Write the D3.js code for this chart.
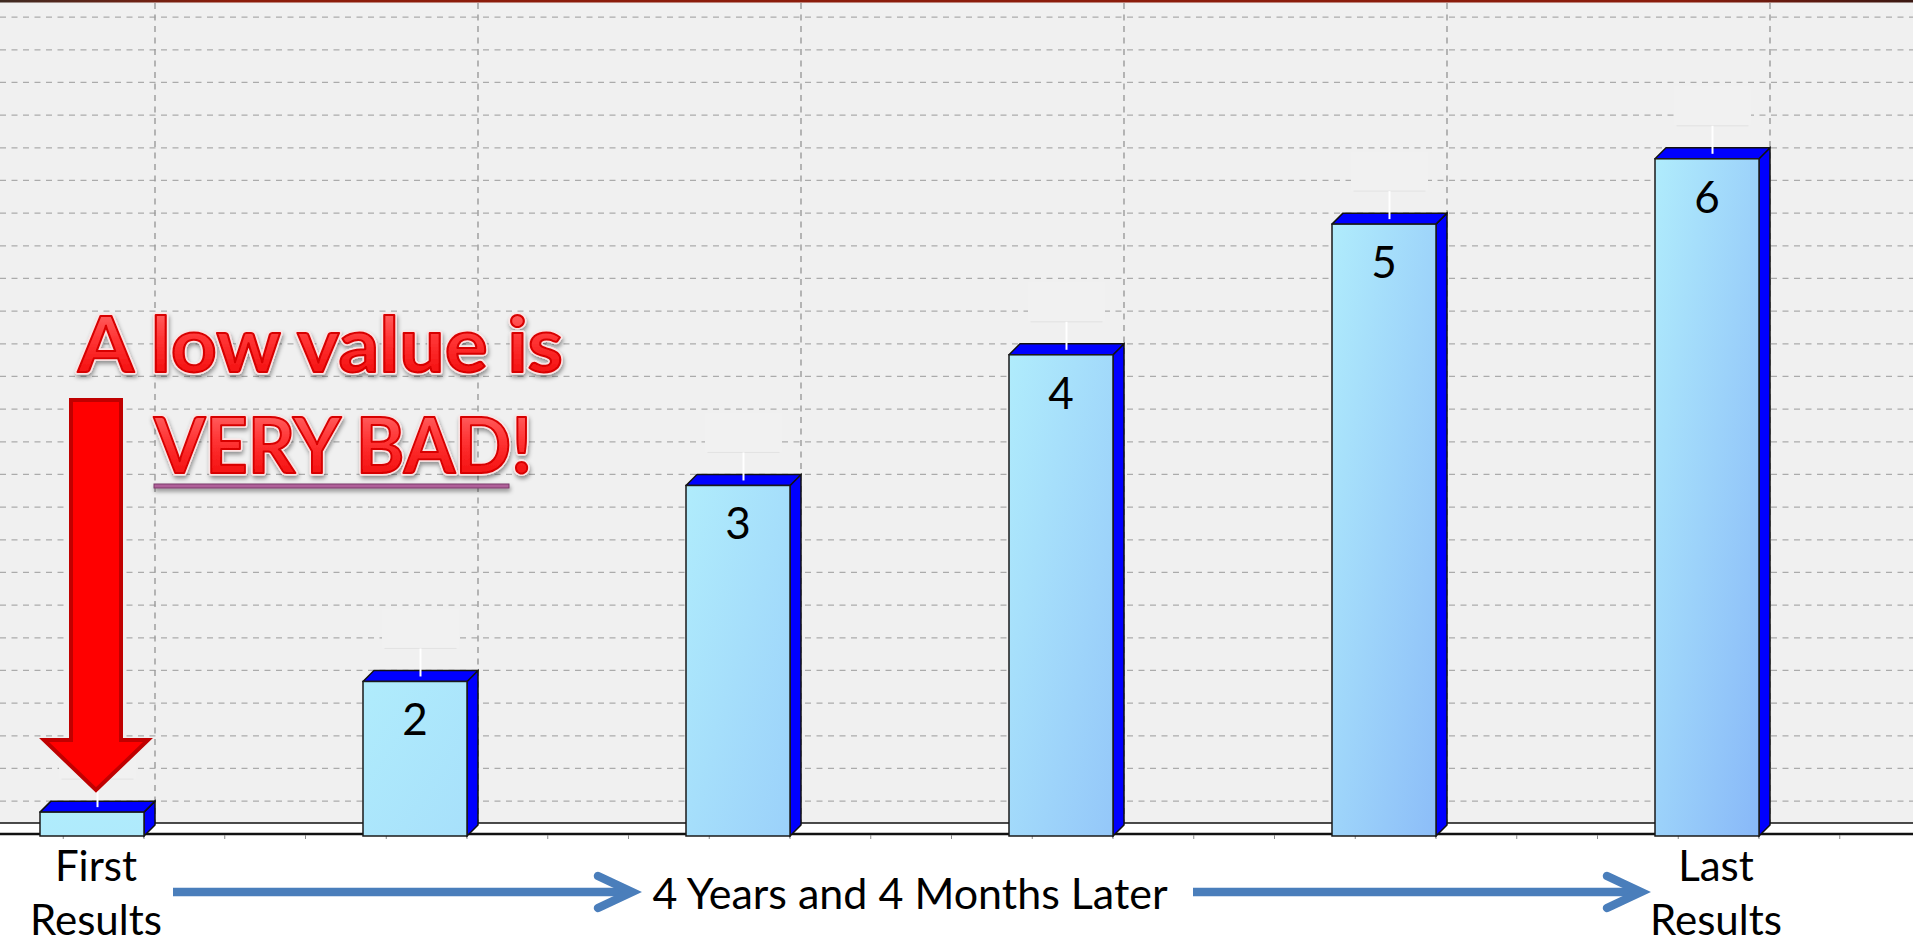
<!DOCTYPE html>
<html>
<head>
<meta charset="utf-8">
<script src="https://cdn.jsdelivr.net/npm/d3@7"></script>
<style>
  html, body { margin: 0; padding: 0; background: #fff; overflow: hidden; }
  svg { display: block; font-family: Lato, "Open Sans", sans-serif; }
</style>
</head>
<body>
<div class="container"></div>
<script>
var width = 1913;
var height = 946;

// Chart data
var barIndex = [0, 1, 2, 3, 4, 5];
var barValues = [1, 5, 11, 15, 19, 21];
var barLabels = ["", "2", "3", "4", "5", "6"];
var gridValues = d3.range(1, 26);
var startLabel = ["First", "Results"];
var endLabel = ["Last", "Results"];
var middleLabel = "4 Years and 4 Months Later";
var noteLines = ["A low value is", "VERY BAD!"];

// 3D look of the columns
var depth = { dx: 11, dy: 11 };
var barW = 104;
var axisY = 834;
var floorY = axisY - depth.dy;

var svg = d3.select(".container").append("svg")
  .attr("width", width)
  .attr("height", height);
var defs = svg.append("defs");

var xScale = d3.scaleLinear().domain([0, 5]).range([92, 1707]);
var yScale = d3.scaleLinear().domain([0.3, 25.8]).range([835, 2]);
var step = xScale(1) - xScale(0);

// back wall
svg.append("rect")
  .attr("x", 0).attr("y", 0)
  .attr("width", width).attr("height", floorY)
  .attr("fill", "#f0f0f0");

// top border strip
var topGrad = defs.append("linearGradient").attr("id", "topGrad");
[["0%", "#3e2a22"], ["12%", "#8c1c0a"], ["88%", "#8a1c0c"], ["100%", "#3a1812"]].forEach(function (s) {
  topGrad.append("stop").attr("offset", s[0]).attr("stop-color", s[1]);
});
svg.append("rect")
  .attr("x", 0).attr("y", 0)
  .attr("width", width).attr("height", 2.5)
  .attr("fill", "url(#topGrad)");

// horizontal grid on the back wall
svg.append("g").selectAll("line")
  .data(gridValues)
  .enter().append("line")
  .attr("x1", 0).attr("x2", width)
  .attr("y1", d => yScale(d) - depth.dy)
  .attr("y2", d => yScale(d) - depth.dy)
  .style("stroke", "#ababab")
  .style("stroke-width", 1.3)
  .style("stroke-dasharray", "6,5.5");

// vertical grid, one per category
svg.append("g").selectAll("line")
  .data(barIndex)
  .enter().append("line")
  .attr("x1", d => xScale(d) + barW / 2 + depth.dx)
  .attr("x2", d => xScale(d) + barW / 2 + depth.dx)
  .attr("y1", 3).attr("y2", floorY)
  .style("stroke", "#9a9a9a")
  .style("stroke-width", 1.4)
  .style("stroke-dasharray", "6,5.5");

// hidden label boxes with leader lines (faint in the original)
var ghost = svg.append("g");
barIndex.forEach(function (i) {
  var cx = xScale(i) + depth.dx / 2;
  var bottom = yScale(barValues[i]) - depth.dy - 22;
  ghost.append("rect")
    .attr("x", cx - 38.5).attr("y", bottom - 40)
    .attr("width", 77).attr("height", 40)
    .attr("fill", "#f1f1f1");
  ghost.append("line")
    .attr("x1", cx - 36).attr("x2", cx + 36)
    .attr("y1", bottom).attr("y2", bottom)
    .style("stroke", "#e2e2e2")
    .style("stroke-width", 1);
});

// floor
svg.append("rect")
  .attr("x", 0).attr("y", floorY)
  .attr("width", width).attr("height", axisY - floorY)
  .attr("fill", "#ffffff");
svg.append("line")
  .attr("x1", 0).attr("x2", width)
  .attr("y1", floorY).attr("y2", floorY)
  .style("stroke", "#111").style("stroke-width", 1.5);
svg.append("line")
  .attr("x1", 0).attr("x2", width)
  .attr("y1", axisY).attr("y2", axisY)
  .style("stroke", "#111").style("stroke-width", 2.5);

// minor ticks, four per category, aligned with the bar edges
var tickPos = d3.range(-1, 24).map(k => xScale(0) + barW / 2 + k * step / 4)
  .filter(p => p > 0 && p < width);
svg.append("g").selectAll("line")
  .data(tickPos)
  .enter().append("line")
  .attr("x1", d => d).attr("x2", d => d)
  .attr("y1", axisY + 1).attr("y2", axisY + 5)
  .style("stroke", "#8a8a8a")
  .style("stroke-width", 1);

// columns
var hMax = d3.max(barValues, v => yScale.range()[0] - yScale(v));
var bottomColor = d3.interpolateRgb("#b0ecfc", "#88b8f8");
var bars = svg.append("g");
barIndex.forEach(function (i) {
  var v = barValues[i];
  var x0 = xScale(i) - barW / 2;
  var x1 = xScale(i) + barW / 2;
  var yT = yScale(v);
  var yB = axisY + 2;
  var h = yB - yT;

  var g = defs.append("linearGradient")
    .attr("id", "barGrad" + i)
    .attr("x1", 0).attr("y1", 0).attr("x2", 1).attr("y2", 1);
  g.append("stop").attr("offset", "0%").attr("stop-color", "#b0ecfc");
  g.append("stop").attr("offset", "100%").attr("stop-color", bottomColor(h / hMax));

  // side
  bars.append("path")
    .attr("d", "M" + x1 + "," + yT + "L" + (x1 + depth.dx) + "," + (yT - depth.dy) +
      "L" + (x1 + depth.dx) + "," + (yB - depth.dy) + "L" + x1 + "," + yB + "Z")
    .attr("fill", "#0000ff")
    .style("stroke", "#111").style("stroke-width", 1.5);
  // top
  bars.append("path")
    .attr("d", "M" + x0 + "," + yT + "L" + (x0 + depth.dx) + "," + (yT - depth.dy) +
      "L" + (x1 + depth.dx) + "," + (yT - depth.dy) + "L" + x1 + "," + yT + "Z")
    .attr("fill", "#0000ff")
    .style("stroke", "#111").style("stroke-width", 1.5)
    .style("stroke-linejoin", "round");
  // front
  bars.append("rect")
    .attr("x", x0).attr("y", yT)
    .attr("width", barW).attr("height", h)
    .attr("fill", "url(#barGrad" + i + ")")
    .style("stroke", "#1a1a1a").style("stroke-width", 1.5);
});

// white leader lines over the column tops
svg.append("g").selectAll("line")
  .data(barIndex)
  .enter().append("line")
  .attr("x1", d => xScale(d) + depth.dx / 2)
  .attr("x2", d => xScale(d) + depth.dx / 2)
  .attr("y1", d => yScale(barValues[d]) - depth.dy - 22)
  .attr("y2", d => yScale(barValues[d]) - 5)
  .style("stroke", "#ffffff")
  .style("stroke-width", 2);

// value labels inside the columns
svg.append("g").selectAll("text")
  .data(barIndex)
  .enter().append("text")
  .attr("x", d => xScale(d))
  .attr("y", d => yScale(barValues[d]) + 54)
  .style("text-anchor", "middle")
  .style("font-size", "44px")
  .style("fill", "#000")
  .text(d => barLabels[d]);

// category text under the axis
function twoLines(lines, cx) {
  lines.forEach(function (t, k) {
    svg.append("text")
      .attr("x", cx)
      .attr("y", 881 + k * 54)
      .style("text-anchor", "middle")
      .style("font-size", "42px")
      .style("fill", "#000")
      .text(t);
  });
}
twoLines(startLabel, xScale(0) + 4);
twoLines(endLabel, xScale(5) + 9);

svg.append("text")
  .attr("x", 910)
  .attr("y", 909)
  .style("text-anchor", "middle")
  .style("font-size", "43px")
  .style("fill", "#000")
  .text(middleLabel);

// blue timeline arrows
function timeArrow(xStart, xTip, y) {
  svg.append("line")
    .attr("x1", xStart).attr("x2", xTip - 4)
    .attr("y1", y).attr("y2", y)
    .style("stroke", "#4a7ebb")
    .style("stroke-width", 8.5);
  svg.append("path")
    .attr("d", "M" + (xTip - 34) + "," + (y - 16) + "L" + xTip + "," + y + "L" + (xTip - 34) + "," + (y + 16))
    .attr("fill", "none")
    .style("stroke", "#4a7ebb")
    .style("stroke-width", 8.5)
    .style("stroke-linecap", "round")
    .style("stroke-linejoin", "miter");
}
timeArrow(173, 632, 892);
timeArrow(1193, 1641, 892);

// red "pointer" arrow
var arrowX = xScale(0) + 4;
svg.append("path")
  .attr("d", "M" + (arrowX - 25) + ",400 L" + (arrowX + 25) + ",400 L" + (arrowX + 25) + ",740 L" +
    (arrowX + 52) + ",740 L" + arrowX + ",790 L" + (arrowX - 52) + ",740 L" + (arrowX - 25) + ",740 Z")
  .attr("fill", "#ff0000")
  .style("stroke", "#c00000")
  .style("stroke-width", 4);

// WordArt style note
var shadow = defs.append("filter").attr("id", "wordShadow")
  .attr("x", "-10%").attr("y", "-20%").attr("width", "120%").attr("height", "150%");
shadow.append("feDropShadow")
  .attr("dx", 1).attr("dy", 3)
  .attr("stdDeviation", 2.2)
  .attr("flood-color", "#000")
  .attr("flood-opacity", 0.4);

var textGrad = defs.append("linearGradient").attr("id", "textGrad")
  .attr("x1", 0).attr("y1", 0).attr("x2", 0).attr("y2", 1);
[["0%", "#ff7a7a"], ["45%", "#ff3636"], ["100%", "#f00000"]].forEach(function (s) {
  textGrad.append("stop").attr("offset", s[0]).attr("stop-color", s[1]);
});

var note = svg.append("g").attr("filter", "url(#wordShadow)");
[[78, 372, 485], [154, 473, 378]].forEach(function (p, k) {
  // pale halo behind the letters
  note.append("text")
    .attr("x", p[0]).attr("y", p[1])
    .attr("textLength", p[2])
    .attr("lengthAdjust", "spacingAndGlyphs")
    .style("font-size", "76px")
    .style("font-weight", "bold")
    .style("fill", "none")
    .style("stroke", "#fbe4e4")
    .style("stroke-width", 5)
    .style("stroke-linejoin", "round")
    .text(noteLines[k]);
  note.append("text")
    .attr("x", p[0]).attr("y", p[1])
    .attr("textLength", p[2])
    .attr("lengthAdjust", "spacingAndGlyphs")
    .style("font-size", "76px")
    .style("font-weight", "bold")
    .style("fill", "url(#textGrad)")
    .style("stroke", "#d80000")
    .style("stroke-width", 2)
    .style("stroke-linejoin", "round")
    .text(noteLines[k]);
});
note.append("rect")
  .attr("x", 154).attr("y", 484)
  .attr("width", 355).attr("height", 4)
  .attr("fill", "#b0609a")
  .style("stroke", "#7a3a6a")
  .style("stroke-width", 1);
</script>
</body>
</html>
